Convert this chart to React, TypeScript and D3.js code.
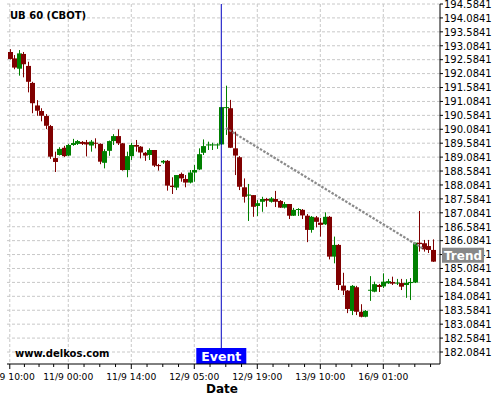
import React from "react";
import * as d3 from "d3";

// Hourly OHLC bars for UB 60 (CBOT), one entry per bar
const opens = [
  192.86, 192.63, 192.26, 192.79, 192.36, 191.75, 190.94, 190.74, 190.56, 190.2,
  189.05, 189.16, 189.42, 189.14, 189.52, 189.56, 189.63, 189.62, 189.5, 189.6,
  189.56, 188.88, 189.31, 189.66, 189.84, 189.58, 188.62, 189.12, 189.52, 189.46,
  189.24, 189.16, 189.34, 188.8, 188.89, 188.95, 188.06, 187.99, 188.48, 188.3,
  188.17, 188.53, 188.64, 189.24, 189.51, 189.52, 189.52, 189.54, 190.87, 190.84,
  189.4, 189.08, 188.0, 187.7, 187.72, 187.33, 187.48, 187.58, 187.48, 187.58,
  187.51, 187.27, 187.4, 186.98, 187.19, 187.19, 186.98, 186.47, 186.92, 186.73,
  186.67, 186.94, 185.51, 185.93, 184.47, 184.29, 183.56, 184.41, 183.53, 183.35,
  184.3, 184.25, 184.49, 184.44, 184.55, 184.6, 184.54, 184.56, 184.49, 184.56,
  184.58, 186.01, 185.99, 185.89, 185.75,
];
const highs = [
  192.96, 192.75, 192.93, 192.86, 192.51, 191.79, 191.13, 190.84, 190.63, 190.24,
  189.28, 189.44, 189.49, 189.56, 189.74, 189.7, 189.66, 189.7, 189.7, 189.76,
  189.58, 189.37, 189.68, 189.91, 190.08, 189.59, 189.28, 189.6, 189.7, 189.48,
  189.27, 189.4, 189.34, 188.84, 188.98, 188.98, 188.36, 188.44, 188.53, 188.44,
  188.62, 188.8, 189.4, 189.72, 189.64, 189.6, 189.58, 190.88, 191.65, 191.14,
  190.0, 189.12, 188.32, 188.12, 187.72, 187.54, 187.66, 187.62, 187.65, 187.87,
  187.54, 187.47, 187.4, 187.26, 187.25, 187.22, 187.04, 186.97, 186.97, 186.9,
  187.1, 186.97, 186.23, 185.96, 184.93, 184.31, 184.49, 184.46, 183.8, 183.59,
  184.81, 184.61, 184.53, 184.91, 184.71, 184.79, 184.71, 184.71, 184.7, 184.74,
  186.01, 187.15, 186.11, 186.11, 186.13,
];
const lows = [
  192.59, 192.24, 192.01, 191.95, 191.41, 190.66, 190.57, 190.37, 190.09, 189.02,
  188.55, 189.14, 189.09, 189.12, 189.49, 189.52, 189.52, 189.11, 189.28, 189.4,
  188.83, 188.68, 189.13, 189.52, 189.52, 188.6, 188.36, 188.98, 189.28, 189.04,
  188.95, 188.98, 188.73, 188.6, 188.84, 187.88, 187.76, 187.9, 188.2, 188.0,
  188.14, 188.2, 188.62, 189.16, 189.34, 189.34, 189.38, 189.52, 189.88, 189.41,
  188.44, 187.9, 187.45, 186.79, 186.94, 186.97, 187.12, 187.3, 187.45, 187.29,
  187.26, 187.24, 186.86, 186.97, 186.97, 186.86, 186.03, 186.37, 186.56, 186.23,
  186.65, 185.41, 185.27, 184.31, 184.13, 183.48, 183.41, 183.41, 183.33, 183.33,
  183.92, 184.23, 184.24, 184.38, 184.53, 184.49, 184.49, 184.31, 184.03, 183.95,
  184.56, 185.69, 185.69, 185.64, 185.32,
];
const closes = [
  192.61, 192.3, 192.81, 192.42, 191.79, 191.02, 190.75, 190.57, 190.21, 189.1,
  188.91, 189.38, 189.12, 189.52, 189.59, 189.66, 189.56, 189.54, 189.64, 189.58,
  188.92, 189.3, 189.66, 189.84, 189.58, 188.62, 189.12, 189.52, 189.46, 189.25,
  189.14, 189.34, 188.78, 188.76, 188.95, 188.06, 188.01, 188.44, 188.32, 188.17,
  188.53, 188.62, 189.19, 189.48, 189.54, 189.54, 189.54, 190.88, 190.88, 189.42,
  189.14, 188.02, 187.66, 187.74, 187.3, 187.43, 187.58, 187.52, 187.6, 187.48,
  187.27, 187.4, 186.98, 187.19, 187.22, 186.99, 186.47, 186.94, 186.76, 186.65,
  186.94, 185.51, 185.93, 184.49, 184.29, 183.63, 184.46, 183.53, 183.35, 183.56,
  184.32, 184.52, 184.42, 184.61, 184.63, 184.54, 184.58, 184.43, 184.57, 184.6,
  186.01, 185.96, 185.77, 185.75, 185.33,
];

// Time axis: bar index of each labelled tick
const xTickIndex = [0, 13, 27, 41, 55, 69, 83];
const xTickLabels = [
  "10/9 10:00",
  "11/9 00:00",
  "11/9 14:00",
  "12/9 05:00",
  "12/9 19:00",
  "13/9 10:00",
  "16/9 01:00",
];

// Price axis labels
const yTickLabels = [
  "182.0841", "182.5841", "183.0841", "183.5841", "184.0841", "184.5841",
  "185.0841", "185.5841", "186.0841", "186.5841", "187.0841", "187.5841",
  "188.0841", "188.5841", "189.0841", "189.5841", "190.0841", "190.5841",
  "191.0841", "191.5841", "192.0841", "192.5841", "193.0841", "193.5841",
  "194.0841", "194.5841",
];

const eventIndex = 47;
const trendIndex = [48, 92];
const trendPrice = [190.13, 185.78];
const trendLabelPrice = 185.56;

const W = 500;
const H = 400;
const left = 7;
const right = 440;
const top = 4;
const bottom = 364;
const font = "DejaVu Sans, sans-serif";
const UP = "#008000";
const DOWN = "#800000";

export default function App() {
  const n = opens.length;
  const x = d3.scaleLinear().domain([-0.62, 95.6]).range([left, right]);
  const y = d3.scaleLinear().domain([181.6531, 194.5841]).range([bottom, top]);
  const bodyW = 4;

  const minorTicks: number[] = [];
  for (let k = 0; k < xTickIndex.length - 1; k++) {
    const a = xTickIndex[k];
    const b = xTickIndex[k + 1];
    for (let q = 1; q < 4; q++) minorTicks.push(a + ((b - a) * q) / 4);
  }
  const lastStep = xTickIndex[6] - xTickIndex[5];
  for (let q = 1; q < 4; q++) minorTicks.push(xTickIndex[6] + (lastStep * q) / 4);

  const ex = x(eventIndex);
  const trendLine = d3.line<number>()
    .x((_, i) => x(trendIndex[i]))
    .y((p) => y(p))(trendPrice);

  return (
    <svg
      width={W}
      height={H}
      style={{ position: "absolute", left: 0, top: 0, background: "#fff" }}
      fontFamily={font}
    >
      <defs>
        <clipPath id="plot">
          <rect x={left} y={top} width={right - left} height={bottom - top} />
        </clipPath>
      </defs>

      {/* grid */}
      {yTickLabels.map((t) => (
        <line
          key={"h" + t}
          x1={left}
          x2={right}
          y1={y(+t)}
          y2={y(+t)}
          stroke="#c8c8c8"
          strokeDasharray="3,2"
        />
      ))}
      {xTickIndex.map((i) => (
        <line
          key={"v" + i}
          x1={x(i)}
          x2={x(i)}
          y1={top}
          y2={bottom}
          stroke="#c8c8c8"
          strokeDasharray="3,2"
        />
      ))}

      {/* candles */}
      <g clipPath="url(#plot)">
        {d3.range(n).map((i) => {
          const up = closes[i] >= opens[i];
          const c = up ? UP : DOWN;
          const cx = Math.round(x(i)) + 0.5;
          const yTop = y(Math.max(opens[i], closes[i]));
          const yBot = y(Math.min(opens[i], closes[i]));
          return (
            <g key={i}>
              <line x1={cx} x2={cx} y1={y(highs[i])} y2={y(lows[i])} stroke={c} strokeWidth={1} />
              <rect
                x={cx - bodyW / 2 - 0.5}
                y={yTop}
                width={bodyW + 1}
                height={Math.max(1, yBot - yTop)}
                fill={c}
              />
            </g>
          );
        })}
      </g>

      {/* trend */}
      <path d={trendLine || ""} fill="none" stroke="#8a8a8a" strokeWidth={2.2} strokeDasharray="2.5,1.5" />

      {/* event marker */}
      <line x1={ex} x2={ex} y1={top} y2={bottom} stroke="#0000c0" strokeWidth={1} />
      <rect x={ex - 25} y={bottom - 16} width={50} height={16} fill="#0000ff" />
      <text
        x={ex}
        y={bottom - 3.5}
        textAnchor="middle"
        fill="#fff"
        fontWeight="bold"
        fontSize={12.5}
      >
        Event
      </text>

      {/* axes */}
      <line x1={right} x2={right} y1={top} y2={bottom} stroke="#000" />
      <line x1={left} x2={right} y1={bottom} y2={bottom} stroke="#000" />
      {yTickLabels.map((t) => (
        <g key={"yl" + t}>
          <line x1={right} x2={right + 3} y1={y(+t)} y2={y(+t)} stroke="#000" />
          <text x={right + 4} y={y(+t)} dy="0.38em" fontSize={10} fill="#000">
            {t}
          </text>
        </g>
      ))}
      {xTickIndex.map((i, k) => (
        <g key={"xl" + i}>
          <line x1={x(i)} x2={x(i)} y1={bottom} y2={bottom + 5} stroke="#000" />
          <text x={x(i)} y={bottom + 16} textAnchor="middle" fontSize={9.2} fill="#000">
            {xTickLabels[k]}
          </text>
        </g>
      ))}
      {minorTicks.map((i) => (
        <line key={"m" + i} x1={x(i)} x2={x(i)} y1={bottom} y2={bottom + 3} stroke="#000" />
      ))}

      {/* trend label */}
      <rect x={442} y={y(trendLabelPrice) - 7.5} width={42} height={15} fill="#888" />
      <text
        x={463}
        y={y(trendLabelPrice)}
        dy="0.37em"
        textAnchor="middle"
        fill="#fff"
        fontWeight="bold"
        fontSize={12.5}
        textLength={38}
        lengthAdjust="spacingAndGlyphs"
      >
        Trend
      </text>

      {/* titles */}
      <text x={10} y={19} fontWeight="bold" fontSize={10} fill="#000">
        UB 60 (CBOT)
      </text>
      <text x={15} y={357} fontWeight="bold" fontSize={10} fill="#000">
        www.delkos.com
      </text>
      <text x={222} y={393} textAnchor="middle" fontWeight="bold" fontSize={12} fill="#000">
        Date
      </text>
    </svg>
  );
}
